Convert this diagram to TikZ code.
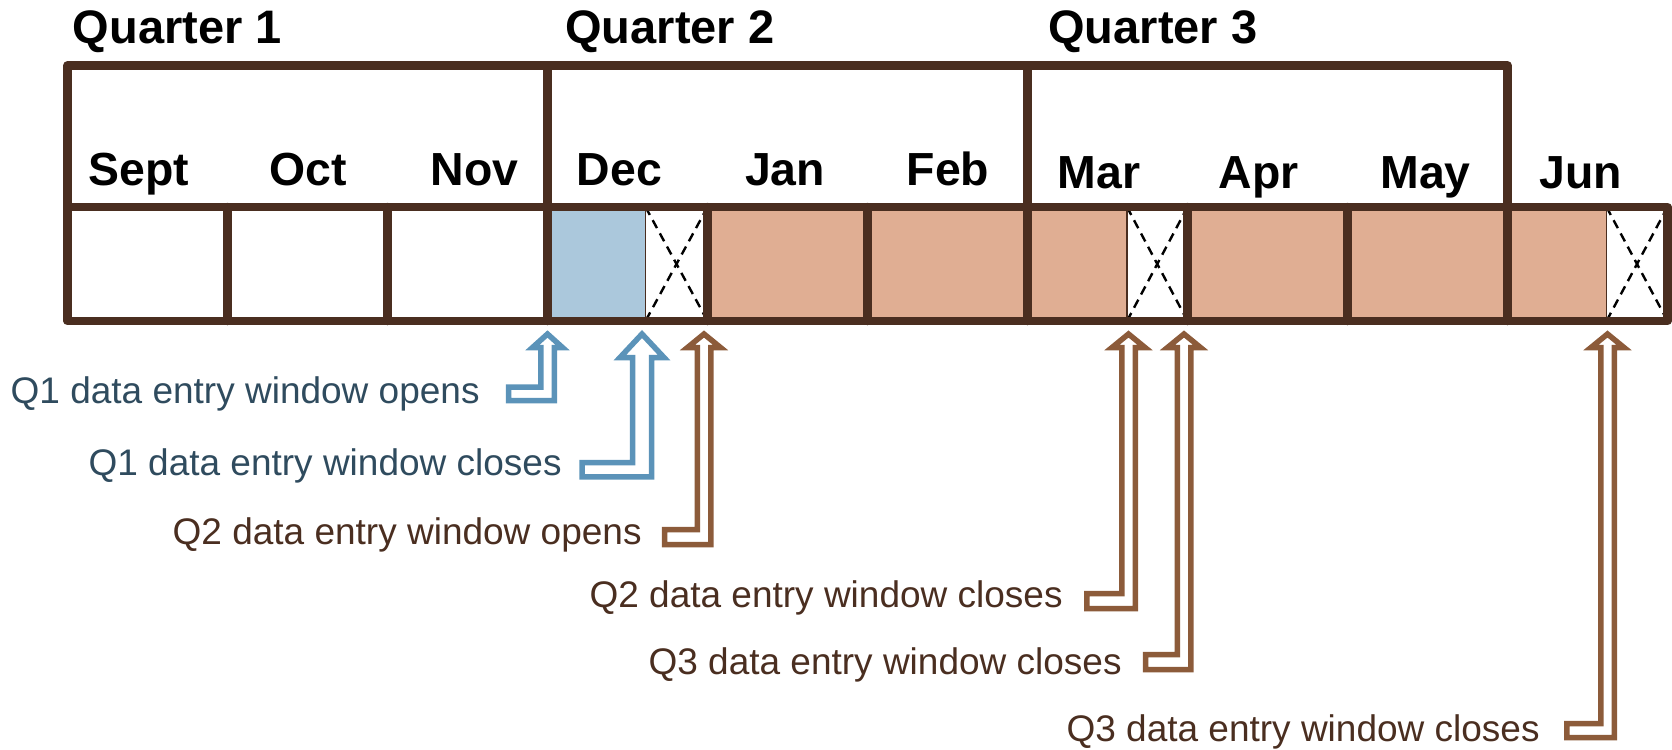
\documentclass[tikz,border=0pt]{standalone}
\usepackage{fontspec}
\setmainfont{Liberation Sans}
\definecolor{lbrown}{HTML}{4A2E20}
\definecolor{bluefill}{HTML}{ABC8DC}
\definecolor{salmon}{HTML}{E0AE93}
\definecolor{arrblue}{HTML}{5B93B9}
\definecolor{arrbrown}{HTML}{8C5B3A}
\definecolor{txtblue}{HTML}{2F4B5E}
\definecolor{txtbrown}{HTML}{4A2E20}
\newcommand{\bentup}[9]{%
 \draw[#1] (#9,#7) -- ({#2+#6},#7) -- ({#2+#6},{#3+#5}) -- ({#2+#4},{#3+#5}) -- (#2,#3) -- ({#2-#4},{#3+#5}) -- ({#2-#6},{#3+#5}) -- ({#2-#6},{#7-#8}) -- (#9,{#7-#8}) -- cycle;}
\begin{document}
\begin{tikzpicture}[x=0.5pt,y=-0.5pt,
  gridline/.style={draw=lbrown,line width=4.25pt,line cap=round,line join=round},
  thinline/.style={draw=lbrown,line width=0.75pt},
  xdash/.style={draw=black,line width=1.2pt,dash pattern=on 4.5pt off 3pt},
  qlab/.style={anchor=base west,inner sep=0pt,font=\fontsize{23.5pt}{28pt}\selectfont\bfseries},
  mlab/.style={anchor=base,inner sep=0pt,font=\fontsize{23.2pt}{28pt}\selectfont\bfseries},
  alab/.style={anchor=base east,inner sep=0pt,font=\fontsize{18.5pt}{22pt}\selectfont},
  barrow/.style={draw=arrblue,line width=2.75pt,line join=miter,fill=white},
  brarrow/.style={draw=arrbrown,line width=2.75pt,line join=miter,fill=white}]
\useasboundingbox (0,0) rectangle (1672,750);
% fills
\fill[bluefill] (547.5,207) rectangle (645.5,321);
\fill[salmon] (707.5,207) rectangle (1127,321);
\fill[salmon] (1187.5,207) rectangle (1606.5,321);
% crossed cells
\foreach \a/\b in {645.5/707.5, 1127/1187.5, 1606.5/1667.5} {
  \draw[xdash] (\a,207) -- (\b,321);
  \draw[xdash] (\b,207) -- (\a,321);
  \draw[thinline] (\a,207) -- (\a,321);
}
% grid
\draw[gridline] (67.5,207) rectangle (1667.5,321);
\foreach \k in {0,...,8} {
  \draw[gridline] ({227.5+160*\k},207) -- ({227.5+160*\k},321);
}
\draw[gridline] (67.5,207) -- (67.5,65.5) -- (1507.5,65.5) -- (1507.5,207);
\draw[gridline] (547.5,65.5) -- (547.5,207);
\draw[gridline] (1027.5,65.5) -- (1027.5,207);
% quarter labels
\node[qlab] (q1) at (72.5,43) {Quarter 1};
\node[qlab] (q2) at (565,43) {Quarter 2};
\node[qlab] (q3) at (1048,43) {Quarter 3};
% month labels
\node[mlab] (sep) at (138.6,185) {Sept};
\node[mlab] (oct) at (308,185) {Oct};
\node[mlab] (nov) at (474.5,185) {Nov};
\node[mlab] (dec) at (619.5,185) {Dec};
\node[mlab] (jan) at (785,185) {Jan};
\node[mlab] (feb) at (948,185) {Feb};
\node[mlab] (mar) at (1099,188) {Mar};
\node[mlab] (apr) at (1258.7,188) {Apr};
\node[mlab] (may) at (1425.6,188) {May};
\node[mlab] (jun) at (1581,188) {Jun};
% arrow labels
\node[alab,text=txtblue] (t1) at (480,403) {Q1 data entry window opens};
\node[alab,text=txtblue] (t2) at (562,475) {Q1 data entry window closes};
\node[alab,text=txtbrown] (t3) at (642,544) {Q2 data entry window opens};
\node[alab,text=txtbrown] (t4) at (1063,607) {Q2 data entry window closes};
\node[alab,text=txtbrown] (t5) at (1122,674) {Q3 data entry window closes};
\node[alab,text=txtbrown] (t6) at (1540,741) {Q3 data entry window closes};
% bent-up arrows
\bentup{barrow}{547.5}{334}{15}{13.5}{6.75}{400.5}{13.5}{508.5}
\bentup{barrow}{642}{334}{22}{23.5}{9.5}{476.8}{14.3}{582}
\bentup{brarrow}{704}{334}{16.5}{13.5}{6.75}{544.5}{15}{664.5}
\bentup{brarrow}{1128.5}{334}{16.5}{13.5}{6.75}{608.5}{15}{1086.8}
\bentup{brarrow}{1184}{334}{16.5}{13.5}{6.75}{669.5}{15}{1145.5}
\bentup{brarrow}{1607.5}{334}{16.5}{13.5}{6.75}{737.5}{14}{1566.8}
\end{tikzpicture}
\end{document}
